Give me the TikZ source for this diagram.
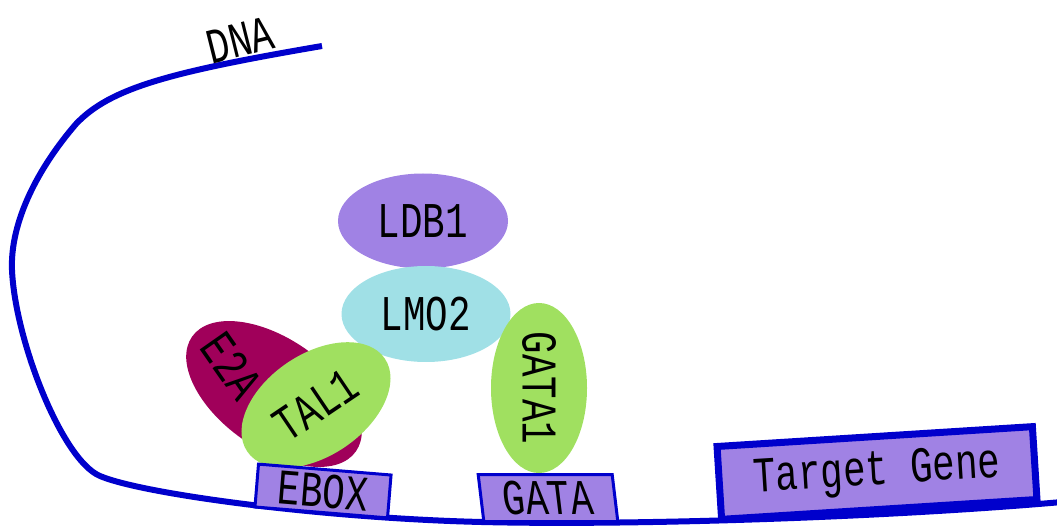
\documentclass[tikz,border=0pt]{standalone}
\usepackage{fontspec}
\usetikzlibrary{shapes.geometric}
\newfontfamily\protfont[FakeStretch=0.75]{Liberation Mono}
\definecolor{dna}{RGB}{0,0,204}
\definecolor{ldb}{RGB}{160,130,228}
\definecolor{lmo}{RGB}{160,224,230}
\definecolor{etwoa}{RGB}{160,0,90}
\definecolor{tal}{RGB}{160,224,96}
\tikzset{
  protein/.style={ellipse, inner sep=0pt},
  site/.style={draw=dna, fill=ldb, line width=3pt, inner sep=0pt},
  lbl/.style={font=\protfont\fontsize{50}{54}\selectfont}
}

\begin{document}
\begin{tikzpicture}[x=1pt,y=-1pt]
\useasboundingbox (0,0) rectangle (1057,526);
% DNA strand
\draw[dna, line width=6pt] (322,46) .. controls (170,72) and (110,88) .. (76,124)
  .. controls (38,168) and (10,222) .. (12,270)
  .. controls (15,340) and (62,460) .. (100,476)
  .. controls (140,493) and (300,515) .. (450,521)
  .. controls (600,527) and (880,518) .. (1062,502);
\node[lbl, rotate=14] (dnalabel) at (240,40) {DNA};
% complex
\node[protein, fill=ldb, minimum width=170pt, minimum height=95pt, lbl] (ldb1) at (423,221) {LDB1};
\node[protein, fill=lmo, minimum width=169pt, minimum height=96pt, lbl] (lmo2) at (426,314) {LMO2};
\node[protein, fill=etwoa, minimum width=200pt, minimum height=110pt, rotate=-35] (e2a) at (274,394) {};
\node[lbl, rotate=-55] (e2alabel) at (232,366) {E2A};
\node[protein, fill=tal, minimum width=166pt, minimum height=102pt, rotate=34, lbl] (tal1) at (316,405) {TAL1};
\node[protein, fill=tal, minimum width=170pt, minimum height=96pt, rotate=-90, lbl] (gata1) at (539,388) {GATA1};
% binding sites
\node[site, minimum width=133pt, minimum height=43pt, rotate=-4.7, lbl] (ebox) at (323,491) {EBOX};
\node[site, minimum width=134pt, minimum height=47pt, xslant=-0.12, lbl] (gata) at (548,498) {GATA};
\node[site, line width=7pt, minimum width=316pt, minimum height=73pt, rotate=3.6, lbl] (target) at (877,473) {Target Gene};
\end{tikzpicture}
\end{document}
